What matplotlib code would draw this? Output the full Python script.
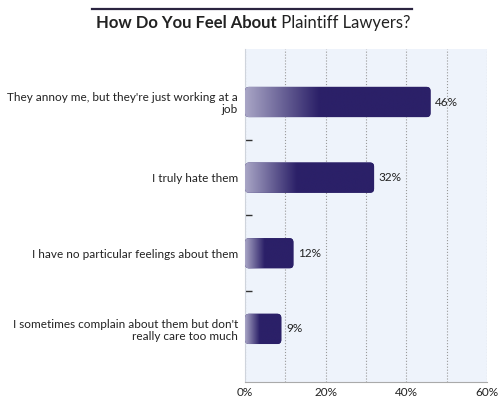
import numpy as np
import matplotlib.pyplot as plt
from matplotlib.patches import FancyBboxPatch
from matplotlib.colors import LinearSegmentedColormap

labels = ["They annoy me, but they're just working at a\njob",
          "I truly hate them",
          "I have no particular feelings about them",
          "I sometimes complain about them but don't\nreally care too much"]
values = [46, 32, 12, 9]
xticks = [0, 20, 40, 60]

plt.rcParams['font.family'] = ['Lato', 'DejaVu Sans']
navy = '#2b2068'
cmap = LinearSegmentedColormap.from_list('bar', ['#a9a6c6', navy])

fig = plt.figure(figsize=(5, 3.99), dpi=100)
ax = fig.add_axes([0.49, 0.043, 0.484, 0.834])
ax.set_facecolor('#eef3fb')

y = np.arange(len(values))
bars = ax.barh(y, values, height=0.4, color='none')

for b in bars:
    x0, y0, w, h = b.get_x(), b.get_y(), b.get_width(), b.get_height()
    patch = FancyBboxPatch((x0, y0), w, h,
                           boxstyle="round,pad=0,rounding_size=1.0",
                           mutation_aspect=0.053, facecolor=navy,
                           edgecolor='none', zorder=3)
    ax.add_patch(patch)
    # fade from light lavender to navy over the first 40% of the bar
    grad = np.clip(np.linspace(0, 1, 512) / 0.4, 0, 1).reshape(1, -1)
    im = ax.imshow(grad, cmap=cmap, aspect='auto', zorder=4,
                   interpolation='bilinear',
                   extent=(x0, x0 + w, y0 + h, y0))
    im.set_clip_path(patch)
    ax.text(w + 1.2, y0 + h / 2, f"{int(w)}%", va='center', ha='left',
            fontsize=8.5, color='#222222')

ax.set_xlim(0, 60)
ax.set_ylim(3.7, -0.7)
ax.set_yticks(y)
ax.set_yticklabels(labels, fontsize=8.5, color='#222222', linespacing=1.1)
ax.set_yticks([0.5, 1.5, 2.5], minor=True)
ax.tick_params(axis='y', which='major', length=0, pad=5)
ax.tick_params(axis='y', which='minor', direction='in', length=5,
               width=1, color='#333333')
ax.set_xticks(xticks)
ax.set_xticklabels([f"{t}%" for t in xticks], fontsize=8.5, color='#222222')
ax.set_xticks([10, 30, 50], minor=True)
ax.tick_params(axis='x', which='both', length=0, pad=4)
ax.grid(axis='x', which='both', linestyle=':', color='#999999', linewidth=0.8)
ax.set_axisbelow(True)

for s in ['top', 'right']:
    ax.spines[s].set_visible(False)
ax.spines['left'].set_color('#cfd4dc')
ax.spines['bottom'].set_color('#aaaaaa')

fig.add_artist(plt.Line2D([0.184, 0.824], [0.978, 0.978], color='#2b2440',
                          linewidth=1.6))
t1 = fig.text(0.192, 0.93, "How Do You Feel About", fontsize=12,
              fontweight='bold', color='#222222', va='baseline')
ax.annotate(" Plaintiff Lawyers?", xy=(1, 0), xycoords=t1, fontsize=12,
            color='#222222', va='bottom', annotation_clip=False)

fig.savefig('out.png', dpi=100)
